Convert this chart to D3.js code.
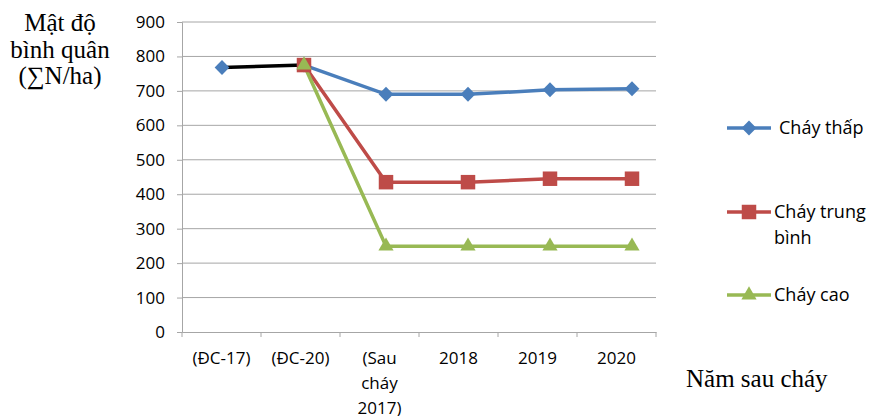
<!doctype html>
<html>
<head>
<meta charset="utf-8">
<style>
    body { margin: 0; background: #fff; }
    .tick text, .cat { font-family: "Open Sans", "DejaVu Sans", sans-serif; font-size: 17px; fill: #000; }
    .serif { font-family: "Liberation Serif", "Times New Roman", serif; font-size: 25px; fill: #000; }
    .leg { font-family: "Open Sans", "DejaVu Sans", sans-serif; font-size: 18px; fill: #000; }
</style>
<script src="https://d3js.org/d3.v7.min.js"></script>
</head>
<body>

    <svg id="chart" width="870" height="416"></svg>

    <script>

        // Data
        var categories = ["(ĐC-17)", "(ĐC-20)", "(Sau cháy 2017)", "2018", "2019", "2020"];
        var control = [768, 775];               // black segment between the two control plots
        var chayThap = [768, 775, 690, 690, 703, 706];
        var chayTrungBinh = [null, 775, 435, 435, 445, 445];
        var chayCao = [null, 775, 249, 249, 249, 249];
        var yTicks = [0, 100, 200, 300, 400, 500, 600, 700, 800, 900];
        var seriesNames = ["Cháy thấp", "Cháy trung bình", "Cháy cao"];

        var svg = d3.select("#chart");
        var mLeft = 182, mRight = 656, mTop = 22, mBottom = 332;

        var x = d3.scaleBand().domain(categories).range([mLeft, mRight]);
        // the plotted points sit on a slightly wider spacing than the category bands
        var xp = d3.scalePoint().domain(categories).range([222, 632]);
        var y = d3.scaleLinear().domain([0, 900]).range([mBottom, mTop]);

        // gridlines
        svg.append("g")
          .selectAll("line")
          .data(yTicks.slice(1))
          .enter()
          .append("line")
            .attr("x1", mLeft).attr("x2", mRight)
            .attr("y1", function (d) { return y(d); })
            .attr("y2", function (d) { return y(d); })
            .attr("stroke", "#a6a6a6").attr("stroke-width", 1);

        // y axis
        var yAxis = svg.append("g")
          .attr("transform", "translate(" + mLeft + ",0)")
          .call(d3.axisLeft(y).tickValues(yTicks).tickSize(5).tickPadding(12));
        yAxis.select(".domain").attr("stroke", "#a6a6a6");
        yAxis.selectAll(".tick line").attr("stroke", "#a6a6a6");

        // x axis
        var xAxis = svg.append("g")
          .attr("transform", "translate(0," + mBottom + ")")
          .call(d3.axisBottom(x).tickSize(0).tickFormat(""));
        xAxis.select(".domain").attr("stroke", "#a6a6a6");
        xAxis.selectAll(".tick").remove();

        // band boundary ticks
        svg.append("g")
          .selectAll("line")
          .data(categories.concat(["end"]))
          .enter()
          .append("line")
            .attr("x1", function (d, i) { return mLeft + i * x.step(); })
            .attr("x2", function (d, i) { return mLeft + i * x.step(); })
            .attr("y1", mBottom).attr("y2", mBottom + 5)
            .attr("stroke", "#a6a6a6");

        // category labels (wrapped)
        var labelLines = [["(ĐC-17)"], ["(ĐC-20)"], ["(Sau", "cháy", "2017)"], ["2018"], ["2019"], ["2020"]];
        categories.forEach(function (c, i) {
          var t = svg.append("text")
            .attr("class", "cat")
            .attr("text-anchor", "middle");
          labelLines[i].forEach(function (l, j) {
            t.append("tspan")
              .attr("x", x(c) + x.bandwidth() / 2)
              .attr("y", 364 + j * 25)
              .text(l);
          });
        });

        var cx = function (i) { return xp(categories[i]); };

        var line = d3.line()
          .defined(function (d) { return d != null; })
          .x(function (d, i) { return cx(i); })
          .y(function (d) { return y(d); });

        var colors = ["#4a7ebb", "#be4b48", "#98b954"];
        var allSeries = [chayThap, chayTrungBinh, chayCao];

        // black control segment
        svg.append("path")
          .attr("d", line(control))
          .attr("fill", "none").attr("stroke", "#000").attr("stroke-width", 3.5);

        // series lines (from ĐC-20 onwards)
        allSeries.forEach(function (s, k) {
          var part = s.map(function (d, i) { return i >= 1 ? d : null; });
          svg.append("path")
            .attr("d", line(part))
            .attr("fill", "none")
            .attr("stroke", colors[k])
            .attr("stroke-width", 3.5);
        });

        var shapes = [d3.symbolDiamond, d3.symbolSquare, d3.symbolTriangle];
        var sizes = [65, 210, 100];

        function marker(g, k, px, py) {
          g.append("path")
            .attr("d", d3.symbol().type(shapes[k]).size(sizes[k])())
            .attr("transform", "translate(" + px + "," + py + ")" + (k === 0 ? " scale(1.7,1)" : ""))
            .attr("fill", colors[k]);
        }

        // markers
        allSeries.forEach(function (s, k) {
          var g = svg.append("g");
          s.forEach(function (d, i) {
            if (d == null) return;
            marker(g, k, cx(i), y(d));
          });
        });

        // y axis title
        var yt = svg.append("text").attr("class", "serif").attr("text-anchor", "middle");
        ["Mật độ", "bình quân", "(∑N/ha)"].forEach(function (l, j) {
          yt.append("tspan").attr("x", 60).attr("y", 31 + j * 26.5).text(l);
        });

        // x axis title
        svg.append("text")
          .attr("class", "serif")
          .attr("x", 686).attr("y", 387)
          .text("Năm sau cháy");

        // legend
        var legY = [128, 212, 295];
        seriesNames.forEach(function (n, k) {
          var g = svg.append("g");
          g.append("line")
            .attr("x1", 727).attr("x2", 771)
            .attr("y1", legY[k]).attr("y2", legY[k])
            .attr("stroke", colors[k]).attr("stroke-width", 3.5);
          marker(g, k, 749, legY[k]);
          var t = g.append("text").attr("class", "leg");
          if (k === 1) {
            t.append("tspan").attr("x", 774).attr("y", legY[k] + 6).text("Cháy trung");
            t.append("tspan").attr("x", 774).attr("y", legY[k] + 32).text("bình");
          } else {
            t.append("tspan").attr("x", k === 0 ? 779 : 774).attr("y", legY[k] + 6).text(n);
          }
        });

    </script>

</body>
</html>
